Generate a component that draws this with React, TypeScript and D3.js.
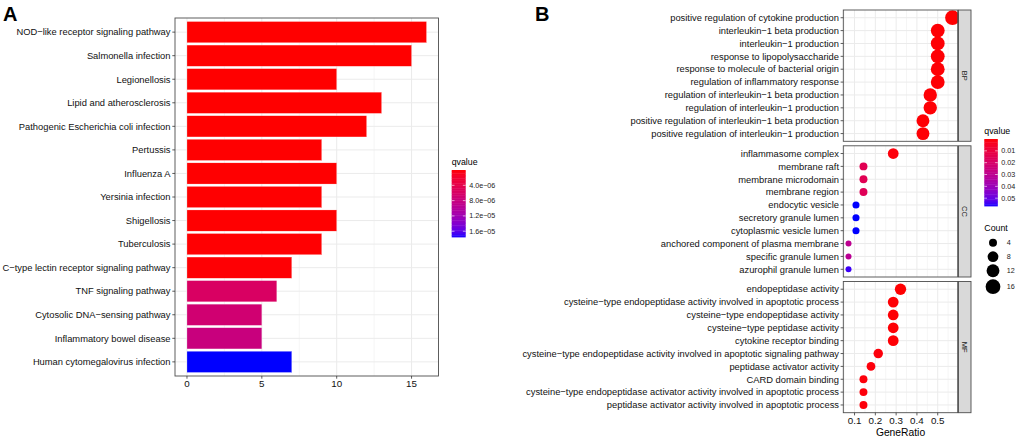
import React from 'react';
import * as d3 from 'd3';

// ---- panel A: KEGG bar chart ----
const keggTerms = [
  'NOD−like receptor signaling pathway',
  'Salmonella infection',
  'Legionellosis',
  'Lipid and atherosclerosis',
  'Pathogenic Escherichia coli infection',
  'Pertussis',
  'Influenza A',
  'Yersinia infection',
  'Shigellosis',
  'Tuberculosis',
  'C−type lectin receptor signaling pathway',
  'TNF signaling pathway',
  'Cytosolic DNA−sensing pathway',
  'Inflammatory bowel disease',
  'Human cytomegalovirus infection',
];
const keggCount = [16, 15, 10, 13, 12, 9, 10, 9, 10, 9, 7, 6, 5, 5, 7];
const keggQ = [1e-9, 2e-9, 1e-8, 5e-9, 8e-9, 2e-8, 2e-8, 3e-8, 4e-8, 5e-8, 1e-7, 5.8e-6, 7e-6, 7.9e-6, 1.75e-5];
const keggCountTicks = [0, 5, 10, 15];
const keggQTicks = [4e-6, 8e-6, 1.2e-5, 1.6e-5];
const keggQLabels = ['4.0e−06', '8.0e−06', '1.2e−05', '1.6e−05'];

// ---- panel B: GO dot plot ----
const bpTerms = [
  'positive regulation of cytokine production',
  'interleukin−1 beta production',
  'interleukin−1 production',
  'response to lipopolysaccharide',
  'response to molecule of bacterial origin',
  'regulation of inflammatory response',
  'regulation of interleukin−1 beta production',
  'regulation of interleukin−1 production',
  'positive regulation of interleukin−1 beta production',
  'positive regulation of interleukin−1 production',
];
const bpRatio = [0.571, 0.5, 0.5, 0.5, 0.5, 0.5, 0.464, 0.464, 0.429, 0.429];
const bpCount = [16, 14, 14, 14, 14, 14, 13, 13, 12, 12];
const bpQ = [0.0002, 0.0005, 0.0005, 0.0005, 0.0005, 0.0005, 0.0005, 0.0005, 0.0005, 0.0005];

const ccTerms = [
  'inflammasome complex',
  'membrane raft',
  'membrane microdomain',
  'membrane region',
  'endocytic vesicle',
  'secretory granule lumen',
  'cytoplasmic vesicle lumen',
  'anchored component of plasma membrane',
  'specific granule lumen',
  'azurophil granule lumen',
];
const ccRatio = [0.286, 0.143, 0.143, 0.143, 0.107, 0.107, 0.107, 0.071, 0.071, 0.071];
const ccCount = [8, 4, 4, 4, 3, 3, 3, 2, 2, 2];
const ccQ = [0.001, 0.015, 0.015, 0.016, 0.0566, 0.0566, 0.0566, 0.03, 0.031, 0.0545];

const mfTerms = [
  'endopeptidase activity',
  'cysteine−type endopeptidase activity involved in apoptotic process',
  'cysteine−type endopeptidase activity',
  'cysteine−type peptidase activity',
  'cytokine receptor binding',
  'cysteine−type endopeptidase activity involved in apoptotic signaling pathway',
  'peptidase activator activity',
  'CARD domain binding',
  'cysteine−type endopeptidase activator activity involved in apoptotic process',
  'peptidase activator activity involved in apoptotic process',
];
const mfRatio = [0.321, 0.286, 0.286, 0.286, 0.286, 0.214, 0.179, 0.143, 0.143, 0.143];
const mfCount = [9, 8, 8, 8, 8, 6, 5, 4, 4, 4];
const mfQ = [0.0002, 0.0005, 0.0005, 0.0005, 0.0005, 0.001, 0.001, 0.001, 0.001, 0.001];

const facetNames = ['BP', 'CC', 'MF'];
const goRatioTicks = [0.1, 0.2, 0.3, 0.4, 0.5];
const goQTicks = [0.01, 0.02, 0.03, 0.04, 0.05];
const goCountTicks = [4, 8, 12, 16];

const FONT = '"Liberation Sans", Arial, Helvetica, sans-serif';
const GRID = '#EBEBEB';
const BORDER = '#4d4d4d';
const LABEL = 9.35;

function expand(lo: number, hi: number, m = 0.05): [number, number] {
  const d = (hi - lo) * m;
  return [lo - d, hi + d];
}

function ColourBar({ x, y, w, h, scale, ticks, labels, title }: any) {
  const [q0, q1] = scale.domain();
  const pos = d3.scaleLinear().domain([q0, q1]).range([y, y + h]);
  const steps = d3.range(0, 40);
  return (
    <g>
      <text x={x} y={y - 5} fontSize={8.8} fill="#000">{title}</text>
      {steps.map((s) => {
        const v0 = q0 + ((q1 - q0) * s) / 40;
        return (
          <rect key={s} x={x} y={pos(v0)} width={w} height={h / 40 + 0.4}
            fill={scale(v0 + (q1 - q0) / 80)} />
        );
      })}
      {ticks.map((t: number, i: number) => (
        <g key={i}>
          <line x1={x} x2={x + w * 0.2} y1={pos(t)} y2={pos(t)} stroke="#fff" strokeWidth={0.6} />
          <line x1={x + w * 0.8} x2={x + w} y1={pos(t)} y2={pos(t)} stroke="#fff" strokeWidth={0.6} />
          <text x={x + w + 3.5} y={pos(t)} dy="0.35em" fontSize={7.2} fill="#1a1a1a">{labels[i]}</text>
        </g>
      ))}
    </g>
  );
}

function PanelA() {
  const left = 175, right = 438.5, top = 18, bottom = 376;
  const x = d3.scaleLinear().domain(expand(0, d3.max(keggCount)!)).range([left, right]);
  const y = d3.scaleLinear().domain([0.4, keggTerms.length + 0.6]).range([top, bottom]);
  const colour = d3.scaleLinear<string>()
    .domain([0, 1.75e-5]).range(['red', 'blue']).interpolate(d3.interpolateLab);
  const bw = (y(1.45) - y(0.55));
  const minor = [2.5, 7.5, 12.5];
  return (
    <g fontFamily={FONT}>
      <text x={3} y={21} fontSize={20} fontWeight="bold">A</text>
      <rect x={left} y={top} width={right - left} height={bottom - top} fill="#fff" />
      {minor.map((m) => (
        <line key={m} x1={x(m)} x2={x(m)} y1={top} y2={bottom} stroke={GRID} strokeWidth={0.5} />
      ))}
      {keggCountTicks.map((t) => (
        <line key={t} x1={x(t)} x2={x(t)} y1={top} y2={bottom} stroke={GRID} strokeWidth={1} />
      ))}
      {keggTerms.map((t, i) => (
        <line key={t} x1={left} x2={right} y1={y(i + 1)} y2={y(i + 1)} stroke={GRID} strokeWidth={1} />
      ))}
      {keggTerms.map((t, i) => (
        <rect key={t} x={x(0)} y={y(i + 1) - bw / 2} width={x(keggCount[i]) - x(0)} height={bw}
          fill={colour(keggQ[i])} stroke="#fff" strokeOpacity={0.6} strokeWidth={0.4} />
      ))}
      <rect x={left} y={top} width={right - left} height={bottom - top} fill="none" stroke={BORDER} strokeWidth={0.9} />
      {keggTerms.map((t, i) => (
        <g key={t}>
          <line x1={left - 2.7} x2={left} y1={y(i + 1)} y2={y(i + 1)} stroke="#333" strokeWidth={0.8} />
          <text x={left - 4.5} y={y(i + 1)} dy="0.35em" textAnchor="end" fontSize={LABEL} fill="#111">{t}</text>
        </g>
      ))}
      {keggCountTicks.map((t) => (
        <g key={t}>
          <line x1={x(t)} x2={x(t)} y1={bottom} y2={bottom + 2.7} stroke="#333" strokeWidth={0.8} />
          <text x={x(t)} y={bottom + 10.8} textAnchor="middle" fontSize={9.8} fill="#111">{t}</text>
        </g>
      ))}
      <ColourBar x={451.7} y={170} w={14} h={67} scale={colour}
        ticks={keggQTicks} labels={keggQLabels} title="qvalue" />
    </g>
  );
}

function PanelB() {
  const left = 843.3, right = 957.7;
  const panels = [
    { top: 10, bottom: 141.3, terms: bpTerms, ratio: bpRatio, count: bpCount, q: bpQ },
    { top: 145.8, bottom: 277, terms: ccTerms, ratio: ccRatio, count: ccCount, q: ccQ },
    { top: 281.5, bottom: 412.7, terms: mfTerms, ratio: mfRatio, count: mfCount, q: mfQ },
  ];
  const allRatio = [...bpRatio, ...ccRatio, ...mfRatio];
  const allCount = [...bpCount, ...ccCount, ...mfCount];
  const x = d3.scaleLinear().domain(expand(d3.min(allRatio)!, d3.max(allRatio)!)).range([left, right]);
  const r = d3.scaleSqrt().domain([d3.min(allCount)!, d3.max(allCount)!]).range([3.0, 7.35]);
  const colour = d3.scaleLinear<string>()
    .domain([0, 0.0566]).range(['red', 'blue']).interpolate(d3.interpolateLab);
  const minor = [0.05, 0.15, 0.25, 0.35, 0.45, 0.55];
  const stripX = 958.5, stripW = 12.5;
  const legendY = [242.7, 256.7, 270.7, 286.7];
  return (
    <g fontFamily={FONT}>
      <text x={535} y={21} fontSize={20} fontWeight="bold">B</text>
      {panels.map((p, k) => {
        const y = d3.scaleLinear().domain([0.4, p.terms.length + 0.6]).range([p.top, p.bottom]);
        return (
          <g key={k}>
            <rect x={left} y={p.top} width={right - left} height={p.bottom - p.top} fill="#fff" />
            {minor.map((m) => (
              <line key={m} x1={x(m)} x2={x(m)} y1={p.top} y2={p.bottom} stroke={GRID} strokeWidth={0.5} />
            ))}
            {goRatioTicks.map((t) => (
              <line key={t} x1={x(t)} x2={x(t)} y1={p.top} y2={p.bottom} stroke={GRID} strokeWidth={1} />
            ))}
            {p.terms.map((t, i) => (
              <line key={t} x1={left} x2={right} y1={y(i + 1)} y2={y(i + 1)} stroke={GRID} strokeWidth={1} />
            ))}
            {p.terms.map((t, i) => (
              <circle key={t} cx={x(p.ratio[i])} cy={y(i + 1)} r={r(p.count[i])} fill={colour(p.q[i])} />
            ))}
            <rect x={left} y={p.top} width={right - left} height={p.bottom - p.top} fill="none" stroke={BORDER} strokeWidth={0.9} />
            <rect x={stripX} y={p.top} width={stripW} height={p.bottom - p.top} fill="#D9D9D9" stroke={BORDER} strokeWidth={0.9} />
            <text transform={`translate(${stripX + stripW / 2},${(p.top + p.bottom) / 2}) rotate(90)`}
              textAnchor="middle" dy="0.35em" fontSize={7.5} fill="#1a1a1a">{facetNames[k]}</text>
            {p.terms.map((t, i) => (
              <g key={t}>
                <line x1={left - 2.7} x2={left} y1={y(i + 1)} y2={y(i + 1)} stroke="#333" strokeWidth={0.8} />
                <text x={left - 4.3} y={y(i + 1)} dy="0.35em" textAnchor="end" fontSize={LABEL} fill="#111">{t}</text>
              </g>
            ))}
          </g>
        );
      })}
      {goRatioTicks.map((t) => (
        <g key={t}>
          <line x1={x(t)} x2={x(t)} y1={412.7} y2={415.4} stroke="#333" strokeWidth={0.8} />
          <text x={x(t)} y={424} textAnchor="middle" fontSize={9.8} fill="#111">{t}</text>
        </g>
      ))}
      <text x={(left + right) / 2} y={435.8} textAnchor="middle" fontSize={10.3} fill="#000">GeneRatio</text>
      <ColourBar x={984.3} y={139} w={13.5} h={67} scale={colour}
        ticks={goQTicks} labels={goQTicks.map((t) => t.toFixed(2))} title="qvalue" />
      <text x={984.3} y={231} fontSize={8.8} fill="#000">Count</text>
      {goCountTicks.map((c, i) => (
        <g key={c}>
          <circle cx={993} cy={legendY[i]} r={r(c)} fill="#000" />
          <text x={1006.7} y={legendY[i]} dy="0.35em" fontSize={7.2} fill="#1a1a1a">{c}</text>
        </g>
      ))}
    </g>
  );
}

export default function App() {
  return (
    <svg width={1020} height={439} style={{ position: 'absolute', left: 0, top: 0, background: '#fff' }}>
      <rect width={1020} height={439} fill="#fff" />
      <PanelA />
      <PanelB />
    </svg>
  );
}
